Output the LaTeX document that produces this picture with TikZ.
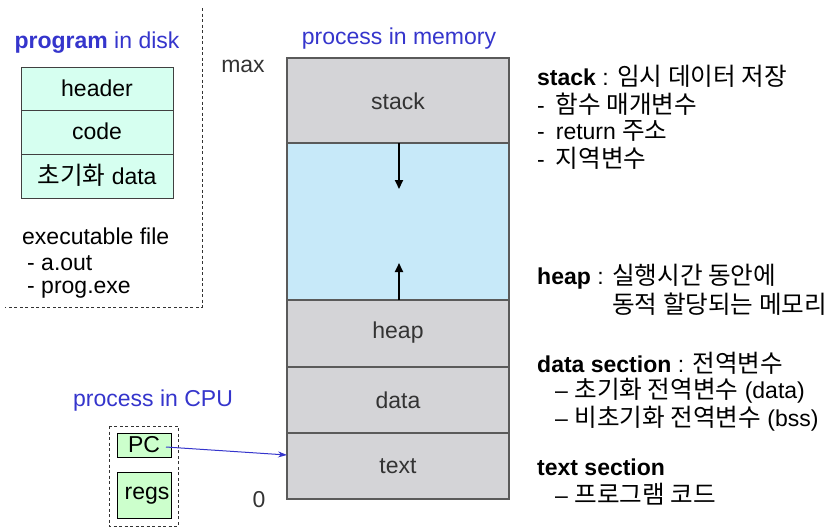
\documentclass[tikz,border=0pt]{standalone}
\usepackage{fontspec}
\setmainfont{Liberation Sans}
\newfontfamily\kr[Scale=1.07]{Noto Sans CJK KR}
\usetikzlibrary{arrows.meta}
\definecolor{memgray}{HTML}{D4D4D7}
\definecolor{memedge}{HTML}{5A5A5A}
\definecolor{freeblue}{HTML}{C7E9F9}
\definecolor{diskfill}{HTML}{D6FFF0}
\definecolor{cpufill}{HTML}{CCFFCC}
\definecolor{titleblue}{HTML}{3535CC}
\definecolor{seglabel}{HTML}{333333}
\newcommand{\K}[1]{{\kr #1}}
\tikzset{
  txt/.style={inner sep=0pt, font=\fontsize{23}{27}\selectfont},
  lefttxt/.style={txt, anchor=west},
  title/.style={txt, text=titleblue},
  seg/.style={draw=memedge, line width=1.2pt, fill=memgray},
  segtext/.style={txt, text=seglabel},
  diskrow/.style={draw=black!75, line width=1pt, fill=diskfill},
  cpubox/.style={draw=black, line width=1pt, fill=cpufill},
  panel/.style={dash pattern=on 3pt off 2.5pt, line width=0.9pt, black!80},
  growarrow/.style={line width=2pt, -{Triangle[length=9pt,width=8pt]}},
}
\begin{document}
\begin{tikzpicture}[x=1pt,y=-1pt]
\useasboundingbox (0,0) rectangle (834,528);

% ---------- program in disk ----------
\draw[panel] (202,8) -- (202,307) -- (5,307);
\node[title] (disktitle) at (97,43) {\textbf{program} in disk};
\draw[diskrow] (21,67) rectangle (173,110);
\draw[diskrow] (21,110) rectangle (173,154);
\draw[diskrow] (21,154) rectangle (173,198);
\node[txt] (header) at (97,88) {header};
\node[txt] (code) at (97,131) {code};
\node[txt] (initdata) at (97,175) {\K{초기화} data};
\node[lefttxt] (exe) at (22,236) {executable file};
\node[lefttxt] (aout) at (27,263) {- a.out};
\node[lefttxt] (prog) at (27,290) {- prog.exe};

% ---------- process in memory ----------
\node[title] (memtitle) at (399,39) {process in memory};
\node[txt, text=black!80] (max) at (243,66) {max};
\node[txt, text=black!80] (zero) at (259,500) {0};
\draw[seg] (287,58) rectangle (509,143);
\draw[seg, fill=freeblue] (287,143) rectangle (509,300);
\draw[seg] (287,300) rectangle (509,367);
\draw[seg] (287,367) rectangle (509,433);
\draw[seg] (287,433) rectangle (509,499);
\node[segtext] (stack) at (398,101) {stack};
\node[segtext] (heap) at (398,333) {heap};
\node[segtext] (data) at (398,400) {data};
\node[segtext] (text) at (398,466) {text};
\coordinate (stacktop) at (399,143);
\coordinate (stackgrow) at (399,189);
\coordinate (heaptop) at (399,300);
\coordinate (heapgrow) at (399,263);
\draw[growarrow] (stacktop) -- (stackgrow);
\draw[growarrow] (heaptop) -- (heapgrow);

% ---------- process in CPU ----------
\node[title, anchor=west] (cputitle) at (73,401) {process in CPU};
\draw[panel] (109,426) rectangle (178,526);
\node[cpubox, minimum width=54pt, minimum height=24pt, inner sep=0pt,
      font=\fontsize{23}{27}\selectfont] (pc) at (144,445) {PC};
\node[cpubox, minimum width=54pt, minimum height=46pt, inner sep=0pt] (regs) at (144,495) {};
\node[txt] (regslabel) at (147,496) {regs};
\coordinate (pcdot) at (166,447);
\coordinate (textedge) at (287,455);
\draw[titleblue, line width=1pt, -{Stealth[length=9pt,width=6pt]}] (pcdot) -- (textedge);

% ---------- descriptions ----------
\node[lefttxt] (dstack) at (537,76) {\textbf{stack} : \K{임시 데이터 저장}};
\node[lefttxt] (dstack1) at (537,104) {-\hspace{11pt}\K{함수 매개변수}};
\node[lefttxt] (dstack2) at (537,131) {-\hspace{11pt}return \K{주소}};
\node[lefttxt] (dstack3) at (537,158) {-\hspace{11pt}\K{지역변수}};
\node[lefttxt] (dheap) at (537,277) {\textbf{heap} : \K{실행시간 동안에}};
\node[lefttxt] (dheap1) at (612,304) {\K{동적 할당되는 메모리}};
\node[lefttxt] (ddata) at (537,363) {\textbf{data section} : \K{전역변수}};
\node[lefttxt] (ddata1) at (555,391) {– \K{초기화 전역변수} (data)};
\node[lefttxt] (ddata2) at (555,419) {– \K{비초기화 전역변수} (bss)};
\node[lefttxt] (dtext) at (537,467) {\textbf{text section}};
\node[lefttxt] (dtext1) at (555,494) {– \K{프로그램 코드}};
\end{tikzpicture}
\end{document}
